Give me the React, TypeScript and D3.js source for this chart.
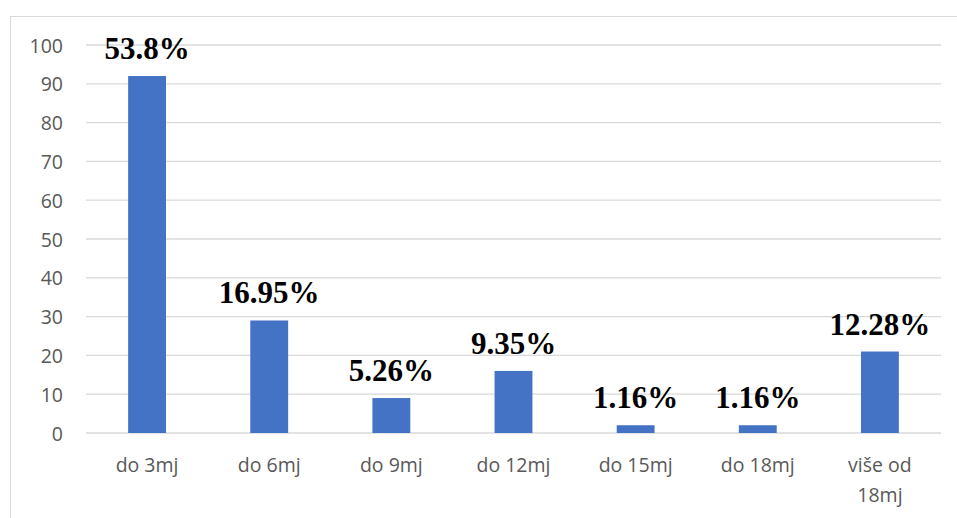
import * as d3 from "d3";

const W = 957;
const H = 518;

const CATEGORIES = ["do 3mj", "do 6mj", "do 9mj", "do 12mj", "do 15mj", "do 18mj", "više od\n18mj"];
const COUNTS = [92, 29, 9, 16, 2, 2, 21];
const PERCENT_LABELS = ["53.8%", "16.95%", "5.26%", "9.35%", "1.16%", "1.16%", "12.28%"];
const Y_TICKS = [0, 10, 20, 30, 40, 50, 60, 70, 80, 90, 100];

const margin = { left: 86, right: 16, top: 45, bottom: 85 };

export default function App() {
  const x = d3
    .scaleBand<string>()
    .domain(CATEGORIES)
    .range([margin.left, 941])
    .paddingInner(0.69)
    .paddingOuter(0.345);

  const y = d3.scaleLinear().domain([0, 100]).range([433, margin.top]);

  const font = "'Open Sans', 'Noto Sans', sans-serif";

  return (
    <svg
      width={W}
      height={H}
      style={{ position: "absolute", left: 0, top: 0, background: "#fff" }}
    >
      {/* outer chart border */}
      <line x1={10} x2={W} y1={16.5} y2={16.5} stroke="#d9d9d9" strokeWidth={1} />
      <line x1={10.5} x2={10.5} y1={16} y2={H} stroke="#d9d9d9" strokeWidth={1} />

      <g>
        {Y_TICKS.map((t) => (
          <g key={t}>
            <line
              x1={margin.left}
              x2={941}
              y1={y(t)}
              y2={y(t)}
              stroke="#d9d9d9"
              strokeWidth={1.3}
            />
            <text
              x={63}
              y={y(t)}
              textAnchor="end"
              dominantBaseline="central"
              fontFamily={font}
              fontSize={19.5}
              fill="#595959"
            >
              {t}
            </text>
          </g>
        ))}
      </g>

      <g>
        {CATEGORIES.map((c, i) => (
          <rect
            key={c}
            x={x(c)}
            y={y(COUNTS[i])}
            width={x.bandwidth()}
            height={y(0) - y(COUNTS[i])}
            fill="#4472C4"
          />
        ))}
      </g>

      <g>
        {CATEGORIES.map((c, i) => (
          <text
            key={c}
            x={(x(c) ?? 0) + x.bandwidth() / 2}
            y={y(COUNTS[i]) - 17}
            textAnchor="middle"
            fontFamily="'Times New Roman', 'Liberation Serif', serif"
            fontWeight="bold"
            fontSize={31}
            fill="#000"
          >
            {PERCENT_LABELS[i]}
          </text>
        ))}
      </g>

      <g>
        {CATEGORIES.map((c) => {
          const lines = c.split("\n");
          const cx = (x(c) ?? 0) + x.bandwidth() / 2;
          return (
            <text
              key={c}
              x={cx}
              y={472}
              textAnchor="middle"
              fontFamily={font}
              fontSize={19.5}
              fill="#595959"
            >
              {lines.map((l, k) => (
                <tspan key={k} x={cx} dy={k === 0 ? 0 : 30}>
                  {l}
                </tspan>
              ))}
            </text>
          );
        })}
      </g>
    </svg>
  );
}
